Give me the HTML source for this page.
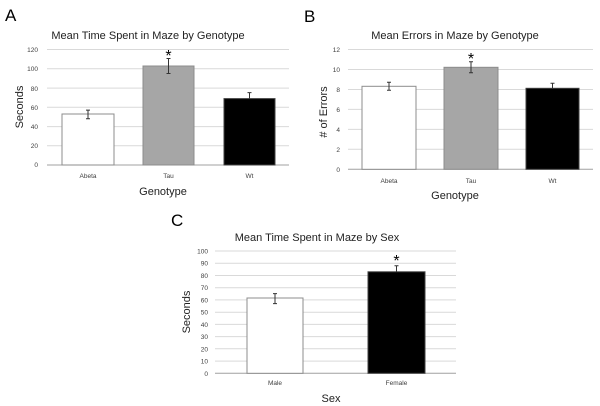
<!DOCTYPE html>
<html><head><meta charset="utf-8"><style>
html,body{margin:0;padding:0;background:#fff;width:600px;height:406px;overflow:hidden}
svg{display:block;font-family:"Liberation Sans",sans-serif}
.g{stroke:#d9d9d9;stroke-width:1}
.ax{stroke:#a0a0a0;stroke-width:1}
.t{font-size:6.5px;fill:#404040}
.e{stroke:#333;stroke-width:1}
</style></head><body>
<svg width="600" height="406" viewBox="0 0 600 406">
<!-- A -->
<text x="5" y="21" font-size="17" fill="#000">A</text>
<text x="148" y="39" font-size="11" text-anchor="middle" fill="#222">Mean Time Spent in Maze by Genotype</text>
<g>
<line class="g" x1="47" x2="289" y1="49.5" y2="49.5"/>
<line class="g" x1="47" x2="289" y1="68.8" y2="68.8"/>
<line class="g" x1="47" x2="289" y1="88.1" y2="88.1"/>
<line class="g" x1="47" x2="289" y1="107.3" y2="107.3"/>
<line class="g" x1="47" x2="289" y1="126.6" y2="126.6"/>
<line class="g" x1="47" x2="289" y1="145.8" y2="145.8"/>
<line class="ax" x1="47" x2="289" y1="165" y2="165"/>
<g class="t" text-anchor="end">
<text x="38" y="52">120</text><text x="38" y="71">100</text><text x="38" y="91">80</text><text x="38" y="110">60</text><text x="38" y="129">40</text><text x="38" y="148">20</text><text x="38" y="167">0</text>
</g>
<rect x="62" y="114" width="52" height="51" fill="#fff" stroke="#8c8c8c"/>
<rect x="143" y="66" width="51" height="99" fill="#a6a6a6" stroke="#8c8c8c"/>
<rect x="224" y="98.6" width="51" height="66.4" fill="#000" stroke="#404040"/>
<path class="e" d="M88 118.8v-8.7M86 118.8h4M86 110.1h4M168.5 73.5v-15M166.5 73.5h4M166.5 58.5h4M249.5 98.6v-6M247.5 92.6h4"/>
<text x="168.5" y="61" font-size="16" text-anchor="middle">*</text>
<g class="t" text-anchor="middle"><text x="88" y="178">Abeta</text><text x="168.5" y="178">Tau</text><text x="249.5" y="178">Wt</text></g>
<text x="163" y="195" font-size="11" text-anchor="middle" fill="#222">Genotype</text>
<text transform="translate(23,107) rotate(-90)" font-size="11" text-anchor="middle" fill="#222">Seconds</text>
</g>
<!-- B -->
<text x="304" y="22" font-size="17" fill="#000">B</text>
<text x="455" y="39" font-size="11" text-anchor="middle" fill="#222">Mean Errors in Maze by Genotype</text>
<line class="g" x1="348" x2="593" y1="49.5" y2="49.5"/>
<line class="g" x1="348" x2="593" y1="69.5" y2="69.5"/>
<line class="g" x1="348" x2="593" y1="89.5" y2="89.5"/>
<line class="g" x1="348" x2="593" y1="109.4" y2="109.4"/>
<line class="g" x1="348" x2="593" y1="129.4" y2="129.4"/>
<line class="g" x1="348" x2="593" y1="149.3" y2="149.3"/>
<line class="ax" x1="348" x2="593" y1="169.3" y2="169.3"/>
<g class="t" text-anchor="end">
<text x="340" y="52">12</text><text x="340" y="72">10</text><text x="340" y="92">8</text><text x="340" y="112">6</text><text x="340" y="132">4</text><text x="340" y="152">2</text><text x="340" y="172">0</text>
</g>
<rect x="362" y="86.3" width="54" height="83" fill="#fff" stroke="#8c8c8c"/>
<rect x="444" y="67.3" width="54" height="102" fill="#a6a6a6" stroke="#8c8c8c"/>
<rect x="526" y="88.3" width="53" height="81" fill="#000" stroke="#404040"/>
<path class="e" d="M389 90.3v-8M387 90.3h4M387 82.3h4M471 72.8v-11M469 72.8h4M469 61.8h4M552.5 88.3v-5M550.5 83.3h4"/>
<text x="471" y="64" font-size="16" text-anchor="middle">*</text>
<g class="t" text-anchor="middle"><text x="389" y="183">Abeta</text><text x="471" y="183">Tau</text><text x="552.5" y="183">Wt</text></g>
<text x="455" y="199" font-size="11" text-anchor="middle" fill="#222">Genotype</text>
<text transform="translate(327,112) rotate(-90)" font-size="11" text-anchor="middle" fill="#222"># of Errors</text>
<!-- C -->
<text x="171" y="226" font-size="17" fill="#000">C</text>
<text x="317" y="241" font-size="11" text-anchor="middle" fill="#222">Mean Time Spent in Maze by Sex</text>
<g>
<line class="g" x1="215" x2="456" y1="251" y2="251"/>
<line class="g" x1="215" x2="456" y1="263.2" y2="263.2"/>
<line class="g" x1="215" x2="456" y1="275.5" y2="275.5"/>
<line class="g" x1="215" x2="456" y1="287.7" y2="287.7"/>
<line class="g" x1="215" x2="456" y1="299.9" y2="299.9"/>
<line class="g" x1="215" x2="456" y1="312.2" y2="312.2"/>
<line class="g" x1="215" x2="456" y1="324.4" y2="324.4"/>
<line class="g" x1="215" x2="456" y1="336.6" y2="336.6"/>
<line class="g" x1="215" x2="456" y1="348.8" y2="348.8"/>
<line class="g" x1="215" x2="456" y1="361.1" y2="361.1"/>
<line class="ax" x1="215" x2="456" y1="373.3" y2="373.3"/>
<g class="t" text-anchor="end">
<text x="208" y="253.5">100</text><text x="208" y="265.7">90</text><text x="208" y="278">80</text><text x="208" y="290.2">70</text><text x="208" y="302.4">60</text><text x="208" y="314.7">50</text><text x="208" y="326.9">40</text><text x="208" y="339.1">30</text><text x="208" y="351.3">20</text><text x="208" y="363.6">10</text><text x="208" y="375.8">0</text>
</g>
<rect x="247" y="298" width="56" height="75.3" fill="#fff" stroke="#8c8c8c"/>
<rect x="368" y="271.8" width="57" height="101.5" fill="#000" stroke="#404040"/>
<path class="e" d="M275 303.6v-10M273 303.6h4M273 293.6h4M396.5 271.8v-6M394.5 265.8h4"/>
<text x="396.5" y="266" font-size="16" text-anchor="middle">*</text>
<g class="t" text-anchor="middle"><text x="275" y="385">Male</text><text x="396.5" y="385">Female</text></g>
<text x="331" y="402" font-size="11" text-anchor="middle" fill="#222">Sex</text>
<text transform="translate(190,312) rotate(-90)" font-size="11" text-anchor="middle" fill="#222">Seconds</text>
</g>
</svg>
</body></html>
